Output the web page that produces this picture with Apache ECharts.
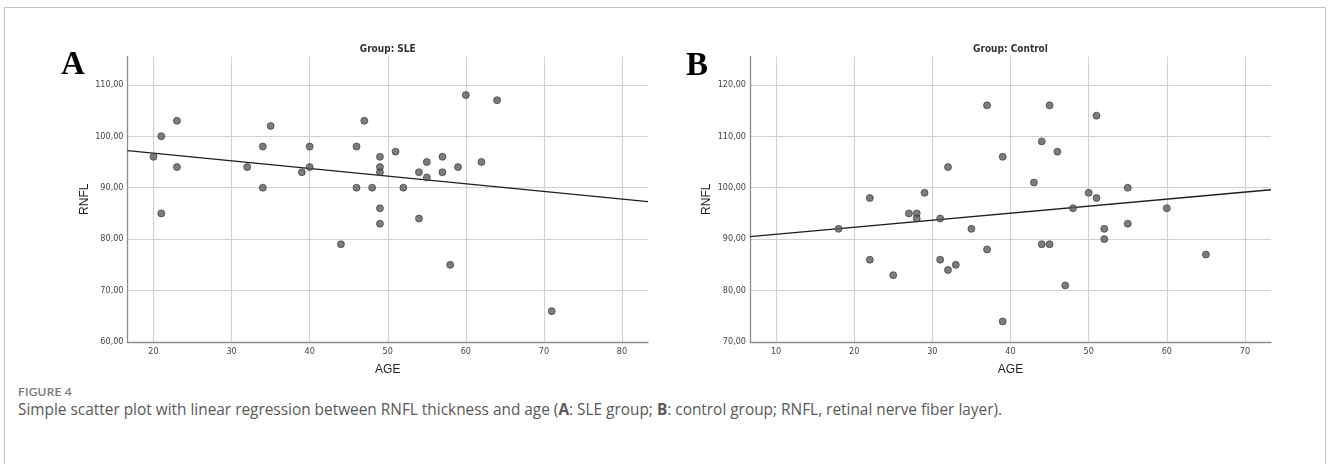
<!DOCTYPE html>
<html>
<head>
<meta charset="utf-8">
<title>Figure 4</title>
<script src="https://cdn.jsdelivr.net/npm/echarts@6/dist/echarts.min.js"></script>
<style>
  body {
    margin: 0;
    background: #fff;
    width: 1328px;
    height: 464px;
    overflow: hidden;
    position: relative;
  }
  .frame {
    position: absolute;
    left: 4px;
    top: 7px;
    width: 1322px;
    height: 500px;
    border: 1px solid #c4c4c4;
    box-sizing: border-box;
  }
  #chart {
    position: absolute;
    left: 0;
    top: 0;
    width: 1328px;
    height: 382px;
  }
  .fig-label {
    position: absolute;
    left: 18px;
    top: 384px;
    font: 600 12px Lato, "Open Sans", sans-serif;
    color: #777;
    letter-spacing: 0.2px;
  }
  .caption {
    position: absolute;
    left: 18px;
    top: 399px;
    font: 15.4px "Open Sans", Lato, sans-serif;
    color: #595959;
  }
</style>
</head>
<body>
<div class="frame"></div>
<div id="chart"></div>
<div class="fig-label">FIGURE 4</div>
<div class="caption">Simple scatter plot with linear regression between RNFL thickness and age (<b>A</b>: SLE group; <b>B</b>: control group; RNFL, retinal nerve fiber layer).</div>

<script>
// SLE group (panel A)
const sleAge = [20, 21, 23, 23, 32, 34, 34, 35, 39, 40, 40, 46, 46, 47, 48, 49, 49, 49,
  51, 52, 54, 55, 55, 57, 57, 59, 60, 62, 64, 21, 44, 49, 49, 54, 58, 71];
const sleRnfl = [96, 100, 103, 94, 94, 98, 90, 102, 93, 98, 94, 98, 90, 103, 90, 96, 94, 93,
  97, 90, 93, 95, 92, 96, 93, 94, 108, 95, 107, 85, 79, 86, 83, 84, 75, 66];
const sleFit = [[16.67, 97.2], [83.33, 87.3]];

// control group (panel B)
const ctrlAge = [22, 29, 32, 37, 39, 43, 44, 45, 46, 50, 51, 51, 55, 18, 22, 25, 27, 28,
  28, 31, 31, 32, 33, 35, 37, 39, 44, 45, 47, 48, 52, 52, 55, 60, 65];
const ctrlRnfl = [98, 99, 104, 116, 106, 101, 109, 116, 107, 99, 114, 98, 100, 92, 86, 83, 95, 95,
  94, 94, 86, 84, 85, 92, 88, 74, 89, 89, 81, 96, 92, 90, 93, 96, 87];
const ctrlFit = [[6.67, 90.5], [73.33, 99.6]];

// axis ranges and tick labels
const sleAgeRange = [16.67, 83.33];
const sleRnflRange = [60, 115.5];
const ctrlAgeRange = [6.67, 73.33];
const ctrlRnflRange = [70, 125.5];
const sleAgeTicks = [20, 30, 40, 50, 60, 70, 80];
const sleRnflTicks = [60, 70, 80, 90, 100, 110];
const ctrlAgeTicks = [10, 20, 30, 40, 50, 60, 70];
const ctrlRnflTicks = [70, 80, 90, 100, 110, 120];

const narrow = "'Liberation Sans Narrow', 'DejaVu Sans Condensed', sans-serif";
const gridColor = "#d2d2d2";

function xAxisOf(gridIndex, range, ticks) {
  return {
    type: "value",
    gridIndex: gridIndex,
    min: range[0],
    max: range[1],
    name: "AGE",
    nameLocation: "middle",
    nameGap: 22,
    nameTextStyle: { color: "#222", fontSize: 12, fontFamily: "Liberation Sans, Arial" },
    axisLine: { show: true, lineStyle: { color: "#8e8e8e", width: 1.3 } },
    axisTick: { show: false, customValues: ticks },
    axisLabel: {
      customValues: ticks,
      color: "#444",
      fontSize: 9,
      fontFamily: narrow,
      margin: 5,
    },
    splitLine: { show: true, lineStyle: { color: gridColor, width: 1.2 } },
  };
}

function yAxisOf(gridIndex, range, ticks) {
  return {
    type: "value",
    gridIndex: gridIndex,
    min: range[0],
    max: range[1],
    name: "RNFL",
    nameLocation: "middle",
    nameGap: 37,
    nameTextStyle: { color: "#222", fontSize: 12, fontFamily: "Liberation Sans, Arial" },
    axisLine: { show: true, lineStyle: { color: "#8e8e8e", width: 1.3 } },
    axisTick: { show: false, customValues: ticks },
    axisLabel: {
      customValues: ticks,
      color: "#444",
      fontSize: 9,
      fontFamily: narrow,
      margin: 4,
      formatter: (v) => v.toFixed(2).replace(".", ","),
    },
    splitLine: { show: true, lineStyle: { color: gridColor, width: 1.2 } },
  };
}

function pointsOf(ages, values) {
  return ages.map((a, i) => [a, values[i]]);
}

const dotStyle = { color: "#5c5c5c", borderColor: "#333", borderWidth: 0.8 };
const fitStyle = { color: "#1e1e1e", width: 1.3 };

const chart = echarts.init(document.getElementById("chart"));
chart.setOption({
  animation: false,
  backgroundColor: "transparent",
  grid: [
    { left: 127.5, top: 56.5, width: 520.5, height: 285.5 },
    { left: 750, top: 56.5, width: 521, height: 285.5 },
  ],
  xAxis: [
    xAxisOf(0, sleAgeRange, sleAgeTicks),
    xAxisOf(1, ctrlAgeRange, ctrlAgeTicks),
  ],
  yAxis: [
    yAxisOf(0, sleRnflRange, sleRnflTicks),
    yAxisOf(1, ctrlRnflRange, ctrlRnflTicks),
  ],
  graphic: [
    {
      type: "text", x: 387.75, y: 49,
      style: { text: "Group: SLE", textAlign: "center", textVerticalAlign: "middle",
        font: "bold 10px " + narrow, fill: "#333" },
    },
    {
      type: "text", x: 1010.5, y: 49,
      style: { text: "Group: Control", textAlign: "center", textVerticalAlign: "middle",
        font: "bold 10px " + narrow, fill: "#333" },
    },
    {
      type: "text", x: 61, y: 65,
      style: { text: "A", textAlign: "left", textVerticalAlign: "middle",
        font: "bold 33px 'Liberation Serif', 'Times New Roman', serif", fill: "#000" },
    },
    {
      type: "text", x: 686, y: 66,
      style: { text: "B", textAlign: "left", textVerticalAlign: "middle",
        font: "bold 33px 'Liberation Serif', 'Times New Roman', serif", fill: "#000" },
    },
  ],
  series: [
    {
      type: "scatter", xAxisIndex: 0, yAxisIndex: 0,
      data: pointsOf(sleAge, sleRnfl),
      symbolSize: 7, itemStyle: dotStyle, z: 3,
    },
    {
      type: "line", xAxisIndex: 0, yAxisIndex: 0,
      data: sleFit, showSymbol: false, lineStyle: fitStyle, z: 2,
    },
    {
      type: "scatter", xAxisIndex: 1, yAxisIndex: 1,
      data: pointsOf(ctrlAge, ctrlRnfl),
      symbolSize: 7, itemStyle: dotStyle, z: 3,
    },
    {
      type: "line", xAxisIndex: 1, yAxisIndex: 1,
      data: ctrlFit, showSymbol: false, lineStyle: fitStyle, z: 2,
    },
  ],
});
</script>
</body>
</html>
